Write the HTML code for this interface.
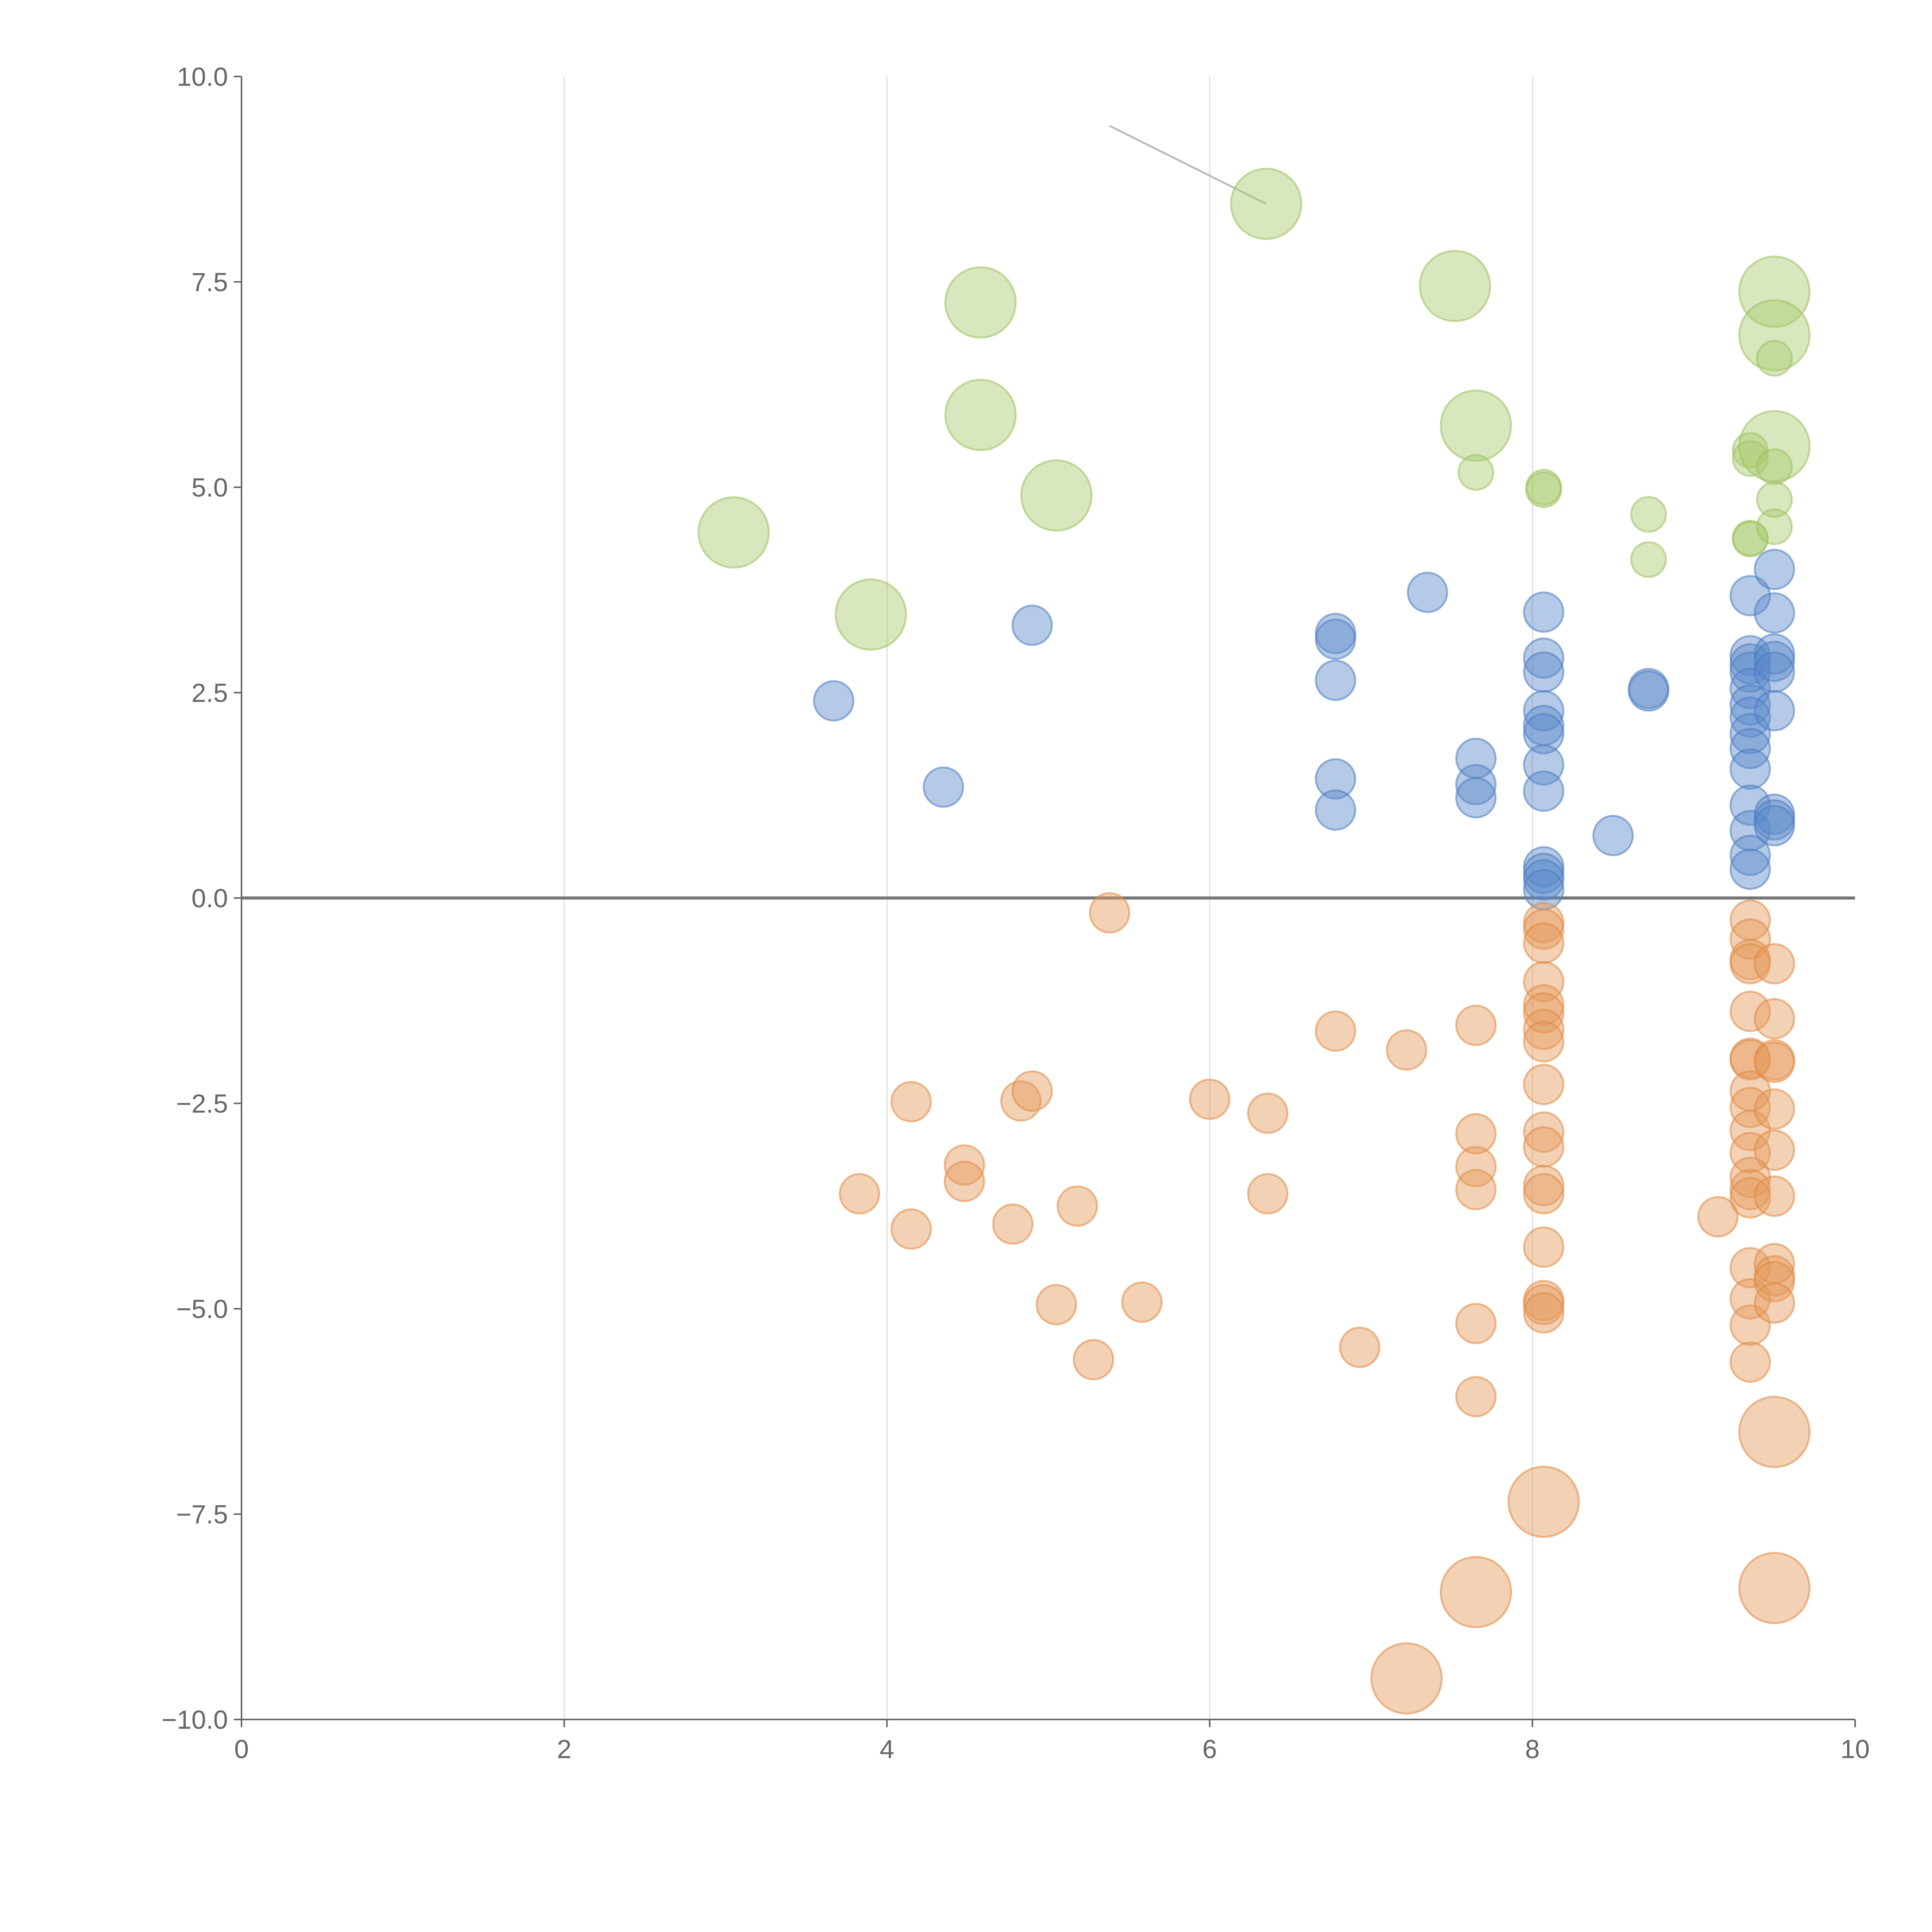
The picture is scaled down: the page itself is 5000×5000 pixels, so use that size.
<!DOCTYPE html>
<html><head><meta charset="utf-8"><style>
html,body{margin:0;padding:0;background:#fff;width:5000px;height:5000px;overflow:hidden}
svg{display:block}
text{font-family:"Liberation Sans",sans-serif;fill:#666;font-size:68px}
</style></head><body>
<svg id="chart" width="5000" height="5000" viewBox="0 0 5000 5000"></svg>
<script>
const xTicks=[0,2,4,6,8,10];
const yTicks=[10,7.5,5,2.5,0,-2.5,-5,-7.5,-10];
const yTickLabels=["10.0","7.5","5.0","2.5","0.0","\u22122.5","\u22125.0","\u22127.5","\u221210.0"];
const greenX=[3.05,3.9,4.58,4.58,5.05,6.35,7.52,7.65,7.65,8.07,8.07,8.72,8.72,9.35,9.35,9.35,9.35,9.5,9.5,9.5,9.5,9.5,9.5,9.5];
const greenY=[4.45,3.45,7.25,5.88,4.9,8.45,7.45,5.75,5.18,5.0,4.97,4.67,4.12,5.45,5.35,4.38,4.37,7.38,6.85,6.57,5.5,5.25,4.85,4.52];
const greenS=[3,3,3,3,3,3,3,3,1,1,1,1,1,1,1,1,1,3,3,1,3,1,1,1];
const blueX=[3.67,4.35,4.9,6.78,6.78,6.78,6.78,6.78,7.35,7.65,7.65,7.65,8.07,8.07,8.07,8.07,8.07,8.07,8.07,8.07,8.07,8.07,8.07,8.07,8.5,8.72,8.72,9.35,9.35,9.35,9.35,9.35,9.35,9.35,9.35,9.35,9.35,9.35,9.35,9.35,9.35,9.5,9.5,9.5,9.5,9.5,9.5,9.5,9.5,9.5];
const blueY=[2.4,1.35,3.32,3.22,3.15,2.65,1.45,1.07,3.72,1.7,1.38,1.22,3.48,2.92,2.75,2.28,2.1,2.0,1.62,1.3,0.38,0.3,0.22,0.1,0.76,2.55,2.52,3.68,2.95,2.85,2.75,2.55,2.35,2.2,2.0,1.82,1.57,1.13,0.82,0.52,0.35,4.0,3.47,2.97,2.88,2.75,2.28,1.02,0.95,0.88];
const orangeX=[5.38,3.83,4.15,4.15,4.48,4.48,4.78,4.83,4.9,5.05,5.18,5.28,5.58,6.0,6.36,6.36,6.78,6.93,7.22,7.65,7.65,7.65,7.65,7.65,7.65,8.07,8.07,8.07,8.07,8.07,8.07,8.07,8.07,8.07,8.07,8.07,8.07,8.07,8.07,8.07,8.07,8.07,9.15,9.35,9.35,9.35,9.35,9.35,9.35,9.35,9.35,9.35,9.35,9.35,9.35,9.35,9.35,9.35,9.35,9.35,9.35,9.5,9.5,9.5,9.5,9.5,9.5,9.5,9.5,9.5,9.5,9.5,9.5,8.07,7.65,9.5,7.22];
const orangeY=[-0.18,-3.6,-2.48,-4.03,-3.25,-3.45,-3.97,-2.47,-2.35,-4.95,-3.75,-5.62,-4.92,-2.45,-2.62,-3.6,-1.62,-5.47,-1.85,-1.55,-2.87,-3.27,-3.55,-5.18,-6.07,-0.3,-0.38,-0.55,-1.02,-1.3,-1.4,-1.6,-1.75,-2.27,-2.85,-3.03,-3.5,-3.6,-4.25,-4.9,-4.95,-5.05,-3.88,-0.27,-0.5,-0.75,-0.8,-1.38,-1.95,-1.97,-2.35,-2.55,-2.83,-3.1,-3.4,-3.55,-3.65,-4.5,-4.88,-5.2,-5.65,-0.8,-1.47,-1.97,-2.0,-2.57,-3.07,-3.63,-4.45,-4.6,-4.67,-4.93,-6.5,-7.35,-8.45,-8.4,-9.5];
const orangeS=[2,2,2,2,2,2,2,2,2,2,2,2,2,2,2,2,2,2,2,2,2,2,2,2,2,2,2,2,2,2,2,2,2,2,2,2,2,2,2,2,2,2,2,2,2,2,2,2,2,2,2,2,2,2,2,2,2,2,2,2,2,2,2,2,2,2,2,2,2,2,2,2,3,3,3,3,3];

const NS="http://www.w3.org/2000/svg";
const svg=document.getElementById('chart');
const L=625,R=4801,T=198,B=4450;
const sx=v=>L+(v-0)/(10-0)*(R-L);
const sy=v=>B-(v+10)/20*(B-T);
const rad={1:45,2:51,3:91};
function mk(tag,attrs){const e=document.createElementNS(NS,tag);for(const k in attrs)e.setAttribute(k,attrs[k]);svg.appendChild(e);return e;}

xTicks.forEach((t,i)=>{
  if(t>0&&t<10){const g=mk('line',{x1:sx(t),x2:sx(t),y1:T,y2:B,stroke:'#ddd','stroke-width':3});
  
  }
  const tk=mk('line',{x1:sx(t),x2:sx(t),y1:B,y2:B+20,stroke:'#666','stroke-width':4});
  
  
  const tx=mk('text',{x:sx(t),y:B+100,'text-anchor':'middle'});
  tx.textContent=String(t);
  
  
});
yTicks.forEach((t,i)=>{
  const tk=mk('line',{x1:L-20,x2:L,y1:sy(t),y2:sy(t),stroke:'#666','stroke-width':4});
  
  
  const tx=mk('text',{x:L-35,y:sy(t)+24,'text-anchor':'end'});
  tx.textContent=yTickLabels[i];
  
  
});
const ya=mk('line',{x1:L,x2:L,y1:T,y2:B,stroke:'#666','stroke-width':4});


const xa=mk('line',{x1:L,x2:R,y1:B,y2:B,stroke:'#666','stroke-width':4});


const z=mk('line',{x1:L,x2:R,y1:sy(0),y2:sy(0),stroke:'#777','stroke-width':8});



const an=mk('line',{x1:sx(5.38),y1:sy(9.4),x2:sx(6.35),y2:sy(8.45),stroke:'#bbb','stroke-width':5});



function series(xs,ys,ss,fill,stroke,name,defS){
  xs.forEach((x,i)=>{
    const c=mk('circle',{cx:sx(x),cy:sy(ys[i]),r:rad[ss?ss[i]:defS],fill:fill,'fill-opacity':0.45,stroke:stroke,'stroke-opacity':0.55,'stroke-width':5});
    
    
  });
}
series(greenX,greenY,greenS,'#a9c96f','#9cc05c','green-bubble');
series(blueX,blueY,null,'#5b8ac9','#4a7cc0','blue-bubble',2);
series(orangeX,orangeY,orangeS,'#e59a5b','#e08840','orange-bubble');
</script>
</body></html>
